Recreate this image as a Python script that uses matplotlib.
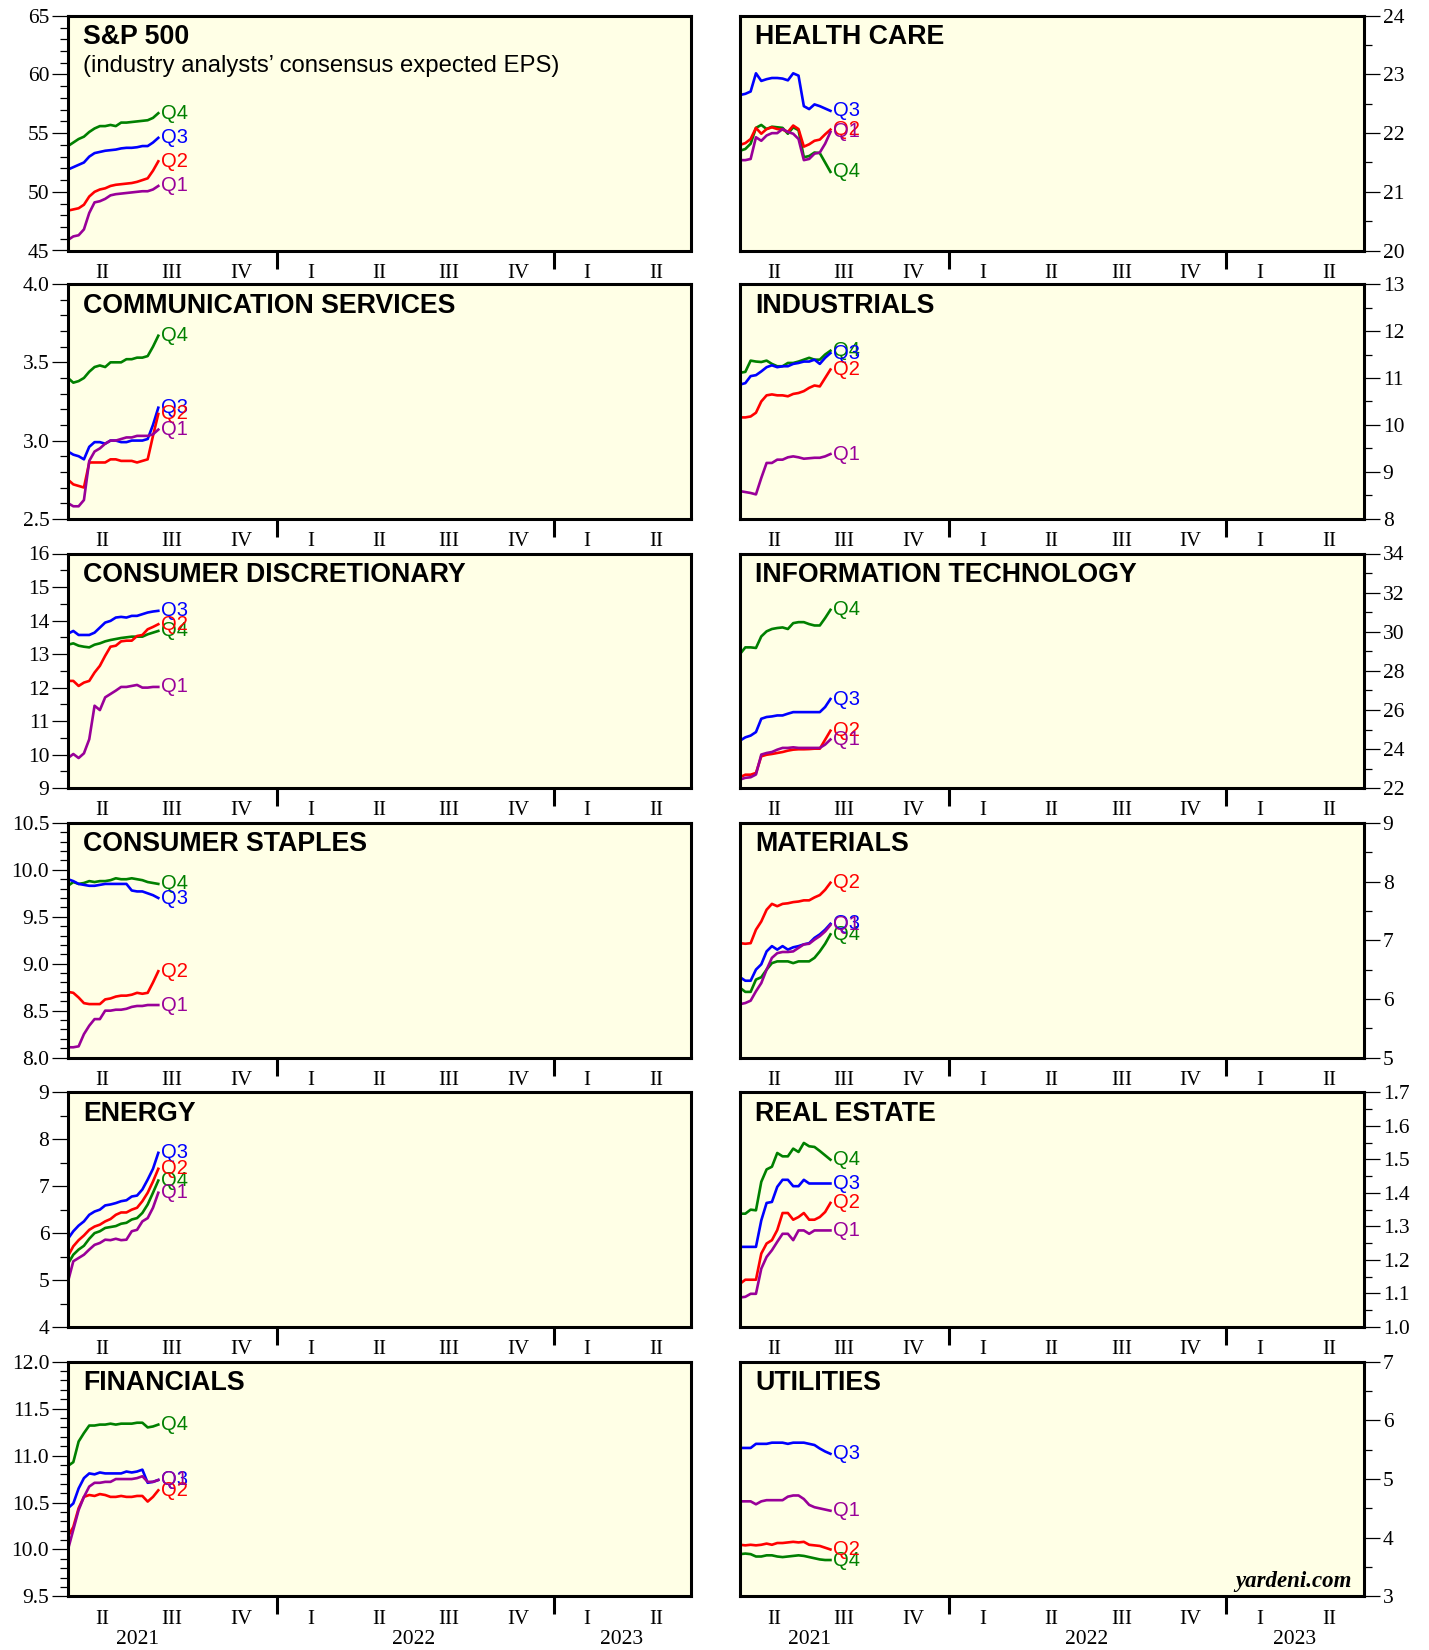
import matplotlib
matplotlib.use("Agg")
import matplotlib.pyplot as plt
import matplotlib.transforms as mtransforms
from matplotlib.ticker import MultipleLocator
import pandas as pd

# ---------------- data ----------------
weeks = pd.date_range("2021-04-01", periods=18, freq="7D")
quarter_labels = ["II", "III", "IV", "I", "II", "III", "IV", "I", "II"]
quarter_mids = ["2021-05-16", "2021-08-16", "2021-11-15", "2022-02-15", "2022-05-16",
                "2022-08-16", "2022-11-15", "2023-02-14", "2023-05-16"]
year_labels = ["2021", "2022", "2023"]
year_pos = ["2021-07-01", "2022-07-01", "2023-04-01"]
year_breaks = ["2022-01-01", "2023-01-01"]
series_names = ["Q4", "Q3", "Q2", "Q1"]

sp_q4 = [53.9, 54.2, 54.5, 54.7, 55.1, 55.4, 55.6, 55.6, 55.7, 55.6, 55.9, 55.9, 55.95, 56.0, 56.05, 56.1, 56.3, 56.7]
sp_q3 = [51.9, 52.1, 52.3, 52.5, 53.0, 53.3, 53.4, 53.5, 53.55, 53.6, 53.7, 53.75, 53.75, 53.8, 53.9, 53.9, 54.2, 54.6]
sp_q2 = [48.4, 48.5, 48.6, 48.9, 49.6, 50.0, 50.2, 50.3, 50.5, 50.6, 50.65, 50.7, 50.75, 50.85, 51.0, 51.15, 51.8, 52.6]
sp_q1 = [45.9, 46.2, 46.3, 46.8, 48.2, 49.1, 49.2, 49.4, 49.7, 49.8, 49.85, 49.9, 49.95, 50.0, 50.05, 50.05, 50.2, 50.5]

hc_q4 = [21.70, 21.73, 21.82, 22.09, 22.14, 22.07, 22.11, 22.10, 22.09, 21.99, 22.10, 22.05, 21.59, 21.61, 21.67, 21.66, 21.50, 21.34]
hc_q3 = [22.65, 22.67, 22.71, 23.02, 22.89, 22.92, 22.94, 22.94, 22.93, 22.90, 23.02, 22.98, 22.46, 22.41, 22.49, 22.46, 22.42, 22.38]
hc_q2 = [21.80, 21.83, 21.90, 22.09, 21.99, 22.07, 22.10, 22.07, 22.06, 22.02, 22.13, 22.07, 21.77, 21.81, 21.87, 21.89, 21.98, 22.06]
hc_q1 = [21.54, 21.54, 21.56, 21.93, 21.87, 21.96, 22.00, 22.00, 22.07, 22.02, 21.99, 21.90, 21.54, 21.56, 21.65, 21.67, 21.82, 22.02]

cs_q4 = [3.40, 3.37, 3.38, 3.40, 3.44, 3.47, 3.48, 3.47, 3.50, 3.50, 3.50, 3.52, 3.52, 3.53, 3.53, 3.54, 3.60, 3.67]
cs_q3 = [2.93, 2.91, 2.90, 2.88, 2.96, 2.99, 2.99, 2.98, 3.00, 3.00, 2.99, 2.99, 3.00, 3.00, 3.00, 3.01, 3.10, 3.21]
cs_q2 = [2.75, 2.72, 2.71, 2.70, 2.86, 2.86, 2.86, 2.86, 2.88, 2.88, 2.87, 2.87, 2.87, 2.86, 2.87, 2.88, 3.03, 3.17]
cs_q1 = [2.60, 2.58, 2.58, 2.62, 2.87, 2.93, 2.95, 2.98, 3.00, 3.00, 3.01, 3.02, 3.02, 3.03, 3.03, 3.03, 3.04, 3.07]

ind_q4 = [11.11, 11.13, 11.37, 11.35, 11.34, 11.37, 11.30, 11.25, 11.25, 11.32, 11.32, 11.35, 11.39, 11.43, 11.39, 11.39, 11.50, 11.58]
ind_q3 = [10.86, 10.89, 11.04, 11.06, 11.14, 11.23, 11.27, 11.23, 11.25, 11.25, 11.30, 11.32, 11.35, 11.35, 11.39, 11.30, 11.43, 11.53]
ind_q2 = [10.16, 10.16, 10.18, 10.26, 10.50, 10.63, 10.65, 10.63, 10.63, 10.61, 10.66, 10.68, 10.72, 10.79, 10.84, 10.82, 11.00, 11.18]
ind_q1 = [8.59, 8.57, 8.55, 8.52, 8.87, 9.19, 9.19, 9.26, 9.26, 9.31, 9.33, 9.31, 9.28, 9.29, 9.30, 9.30, 9.33, 9.38]

cd_q4 = [13.28, 13.32, 13.25, 13.22, 13.20, 13.28, 13.32, 13.38, 13.42, 13.45, 13.48, 13.50, 13.52, 13.52, 13.52, 13.59, 13.64, 13.69]
cd_q3 = [13.61, 13.69, 13.57, 13.57, 13.57, 13.64, 13.79, 13.94, 13.99, 14.09, 14.11, 14.09, 14.14, 14.14, 14.19, 14.24, 14.27, 14.29]
cd_q2 = [12.20, 12.20, 12.05, 12.15, 12.20, 12.45, 12.65, 12.95, 13.22, 13.25, 13.38, 13.40, 13.40, 13.54, 13.57, 13.74, 13.81, 13.89]
cd_q1 = [9.90, 10.02, 9.90, 10.04, 10.46, 11.46, 11.33, 11.71, 11.81, 11.91, 12.02, 12.02, 12.05, 12.08, 12.00, 12.00, 12.02, 12.02]

it_q4 = [28.86, 29.20, 29.20, 29.17, 29.76, 30.02, 30.14, 30.19, 30.22, 30.14, 30.44, 30.49, 30.49, 30.39, 30.32, 30.32, 30.70, 31.12]
it_q3 = [24.43, 24.60, 24.69, 24.87, 25.55, 25.64, 25.67, 25.72, 25.72, 25.81, 25.89, 25.89, 25.89, 25.89, 25.89, 25.89, 26.15, 26.56]
it_q2 = [22.56, 22.69, 22.69, 22.78, 23.63, 23.71, 23.75, 23.80, 23.85, 23.92, 23.97, 23.99, 23.99, 24.00, 24.02, 24.02, 24.48, 24.94]
it_q1 = [22.44, 22.53, 22.56, 22.70, 23.72, 23.80, 23.85, 23.97, 24.06, 24.06, 24.09, 24.06, 24.06, 24.06, 24.06, 24.06, 24.23, 24.49]

st_q4 = [9.83, 9.87, 9.85, 9.86, 9.88, 9.87, 9.88, 9.88, 9.89, 9.91, 9.90, 9.90, 9.91, 9.90, 9.89, 9.87, 9.86, 9.85]
st_q3 = [9.90, 9.88, 9.85, 9.84, 9.83, 9.83, 9.84, 9.85, 9.85, 9.85, 9.85, 9.85, 9.78, 9.77, 9.77, 9.75, 9.73, 9.70]
st_q2 = [8.70, 8.69, 8.64, 8.58, 8.57, 8.57, 8.57, 8.62, 8.63, 8.65, 8.66, 8.66, 8.67, 8.69, 8.68, 8.69, 8.80, 8.92]
st_q1 = [8.11, 8.11, 8.12, 8.25, 8.34, 8.41, 8.41, 8.50, 8.50, 8.51, 8.51, 8.52, 8.54, 8.55, 8.55, 8.56, 8.56, 8.56]

mat_q4 = [6.19, 6.12, 6.12, 6.33, 6.37, 6.50, 6.61, 6.64, 6.64, 6.64, 6.61, 6.64, 6.64, 6.64, 6.70, 6.81, 6.94, 7.10]
mat_q3 = [6.37, 6.31, 6.31, 6.50, 6.59, 6.81, 6.90, 6.84, 6.90, 6.84, 6.88, 6.90, 6.93, 6.95, 7.04, 7.10, 7.18, 7.28]
mat_q2 = [6.95, 6.94, 6.95, 7.18, 7.32, 7.52, 7.62, 7.58, 7.62, 7.63, 7.65, 7.66, 7.68, 7.68, 7.73, 7.77, 7.86, 7.98]
mat_q1 = [5.91, 5.93, 5.97, 6.13, 6.27, 6.50, 6.70, 6.78, 6.80, 6.80, 6.81, 6.87, 6.93, 6.94, 7.01, 7.07, 7.15, 7.26]

en_q4 = [5.35, 5.54, 5.65, 5.73, 5.88, 6.00, 6.04, 6.11, 6.13, 6.15, 6.20, 6.22, 6.29, 6.32, 6.43, 6.61, 6.86, 7.12]
en_q3 = [5.88, 6.04, 6.16, 6.25, 6.39, 6.46, 6.50, 6.59, 6.61, 6.64, 6.68, 6.70, 6.78, 6.80, 6.93, 7.14, 7.37, 7.71]
en_q2 = [5.51, 5.72, 5.85, 5.95, 6.07, 6.14, 6.18, 6.25, 6.30, 6.39, 6.44, 6.44, 6.50, 6.54, 6.68, 6.86, 7.10, 7.37]
en_q1 = [4.97, 5.40, 5.47, 5.54, 5.65, 5.75, 5.79, 5.86, 5.85, 5.88, 5.85, 5.86, 6.04, 6.07, 6.25, 6.32, 6.54, 6.86]

re_q4 = [1.338, 1.338, 1.350, 1.348, 1.433, 1.470, 1.478, 1.519, 1.509, 1.509, 1.532, 1.522, 1.549, 1.539, 1.537, 1.525, 1.512, 1.499]
re_q3 = [1.239, 1.239, 1.239, 1.239, 1.318, 1.370, 1.373, 1.418, 1.439, 1.439, 1.420, 1.420, 1.439, 1.428, 1.428, 1.428, 1.428, 1.428]
re_q2 = [1.129, 1.141, 1.141, 1.141, 1.219, 1.249, 1.259, 1.289, 1.340, 1.340, 1.320, 1.328, 1.340, 1.320, 1.320, 1.328, 1.343, 1.370]
re_q1 = [1.088, 1.090, 1.099, 1.099, 1.174, 1.209, 1.229, 1.254, 1.278, 1.278, 1.259, 1.288, 1.288, 1.278, 1.288, 1.288, 1.288, 1.288]

fin_q4 = [10.89, 10.93, 11.15, 11.24, 11.32, 11.32, 11.33, 11.33, 11.34, 11.33, 11.34, 11.34, 11.34, 11.35, 11.35, 11.30, 11.31, 11.33]
fin_q3 = [10.44, 10.49, 10.65, 10.76, 10.81, 10.80, 10.82, 10.81, 10.81, 10.81, 10.81, 10.83, 10.82, 10.83, 10.85, 10.71, 10.72, 10.74]
fin_q2 = [10.14, 10.24, 10.44, 10.56, 10.58, 10.57, 10.59, 10.58, 10.56, 10.56, 10.57, 10.56, 10.56, 10.57, 10.57, 10.51, 10.56, 10.63]
fin_q1 = [10.00, 10.21, 10.42, 10.56, 10.67, 10.71, 10.71, 10.72, 10.72, 10.75, 10.75, 10.75, 10.75, 10.76, 10.78, 10.72, 10.72, 10.74]

ut_q4 = [3.72, 3.73, 3.72, 3.68, 3.68, 3.70, 3.70, 3.68, 3.67, 3.68, 3.69, 3.70, 3.69, 3.67, 3.65, 3.63, 3.62, 3.62]
ut_q3 = [5.53, 5.53, 5.53, 5.60, 5.60, 5.60, 5.62, 5.62, 5.62, 5.60, 5.62, 5.62, 5.62, 5.60, 5.58, 5.52, 5.47, 5.43]
ut_q2 = [3.88, 3.87, 3.88, 3.87, 3.88, 3.90, 3.88, 3.91, 3.91, 3.92, 3.93, 3.92, 3.93, 3.88, 3.87, 3.86, 3.83, 3.80]
ut_q1 = [4.62, 4.62, 4.62, 4.57, 4.62, 4.64, 4.64, 4.64, 4.64, 4.70, 4.72, 4.72, 4.66, 4.56, 4.52, 4.50, 4.48, 4.46]

# panel: (title, subtitle, series [Q4,Q3,Q2,Q1], ylim, major, minor, column, row, fmt)
panels = [
    ("S&P 500", "(industry analysts\u2019 consensus expected EPS)", [sp_q4, sp_q3, sp_q2, sp_q1], (45, 65), 5, 1, 0, 0, "%d"),
    ("HEALTH CARE", None, [hc_q4, hc_q3, hc_q2, hc_q1], (20, 24), 1, 0.5, 1, 0, "%d"),
    ("COMMUNICATION SERVICES", None, [cs_q4, cs_q3, cs_q2, cs_q1], (2.5, 4.0), 0.5, 0.1, 0, 1, "%.1f"),
    ("INDUSTRIALS", None, [ind_q4, ind_q3, ind_q2, ind_q1], (8, 13), 1, 0.5, 1, 1, "%d"),
    ("CONSUMER DISCRETIONARY", None, [cd_q4, cd_q3, cd_q2, cd_q1], (9, 16), 1, 0.5, 0, 2, "%d"),
    ("INFORMATION TECHNOLOGY", None, [it_q4, it_q3, it_q2, it_q1], (22, 34), 2, 1, 1, 2, "%d"),
    ("CONSUMER STAPLES", None, [st_q4, st_q3, st_q2, st_q1], (8.0, 10.5), 0.5, 0.1, 0, 3, "%.1f"),
    ("MATERIALS", None, [mat_q4, mat_q3, mat_q2, mat_q1], (5, 9), 1, 0.5, 1, 3, "%d"),
    ("ENERGY", None, [en_q4, en_q3, en_q2, en_q1], (4, 9), 1, 0.5, 0, 4, "%d"),
    ("REAL ESTATE", None, [re_q4, re_q3, re_q2, re_q1], (1.0, 1.7), 0.1, 0.05, 1, 4, "%.1f"),
    ("FINANCIALS", None, [fin_q4, fin_q3, fin_q2, fin_q1], (9.5, 12.0), 0.5, 0.1, 0, 5, "%.1f"),
    ("UTILITIES", None, [ut_q4, ut_q3, ut_q2, ut_q1], (3, 7), 1, 0.5, 1, 5, "%d"),
]

colors = {"Q4": "#008000", "Q3": "#0000FF", "Q2": "#FF0000", "Q1": "#990099"}
bg = "#FFFFE6"

# ---------------- layout ----------------
W, H = 1429, 1650
fig = plt.figure(figsize=(W / 100, H / 100), dpi=100)
fig.patch.set_facecolor("white")

col_x = [(68, 691), (740, 1364)]
row_top = [15.8, 284.1, 553.5, 822.9, 1092.3, 1361.7]
row_h = 234.7

SERIF = ["Liberation Serif", "DejaVu Serif"]
SANS = ["Liberation Sans", "DejaVu Sans"]

xmin = pd.Timestamp("2021-04-01")
xmax = pd.Timestamp("2023-07-01")

for title, sub, series, ylim, major, minor, col, row, fmt in panels:
    x0, x1 = col_x[col]
    top = row_top[row]
    ax = fig.add_axes([x0 / W, 1 - (top + row_h) / H, (x1 - x0) / W, row_h / H])
    ax.set_facecolor(bg)
    for sp in ax.spines.values():
        sp.set_linewidth(2.2)
        sp.set_color("black")
    ax.set_xlim(xmin, xmax)
    ax.set_ylim(*ylim)

    for name, vals in zip(series_names, series):
        ax.plot(weeks, vals, color=colors[name], lw=1.9, solid_joinstyle="round")
        ax.annotate(name, xy=(weeks[-1], vals[-1]), xytext=(2, 0),
                    textcoords="offset points", ha="left", va="center",
                    color=colors[name], fontsize=14.5, family=SANS)

    ax.text(15 / (x1 - x0), 1 - 8.5 / row_h, title, transform=ax.transAxes,
            ha="left", va="top", fontsize=19.3, fontweight="bold", family=SANS)
    if sub:
        ax.text(15 / (x1 - x0), 1 - 39 / row_h, sub, transform=ax.transAxes,
                ha="left", va="top", fontsize=17.2, family=SANS)

    # y axis
    ax.yaxis.set_major_locator(MultipleLocator(major))
    ax.yaxis.set_minor_locator(MultipleLocator(minor))
    ax.yaxis.set_major_formatter(matplotlib.ticker.FormatStrFormatter(fmt))
    if col == 1:
        ax.yaxis.tick_right()
    ax.tick_params(axis="y", which="major", direction="out", length=11.5, width=0.9,
                   labelsize=15.5, pad=2)
    ax.tick_params(axis="y", which="minor", direction="out", length=5.5, width=0.9)
    for lab in ax.get_yticklabels():
        lab.set_family(SERIF)

    # x axis: year break ticks (major) and quarter labels (minor)
    ax.set_xticks([pd.Timestamp(d) for d in year_breaks])
    ax.set_xticklabels([])
    ax.set_xticks([pd.Timestamp(d) for d in quarter_mids], minor=True)
    ax.set_xticklabels(quarter_labels, minor=True, family=SERIF, fontsize=15)
    ax.tick_params(axis="x", which="major", direction="out", length=13, width=2.2)
    ax.tick_params(axis="x", which="minor", length=0, pad=9.5)

    if row == 5:
        trans = mtransforms.blended_transform_factory(ax.transData, ax.transAxes)
        for lab, pos in zip(year_labels, year_pos):
            ax.text(pd.Timestamp(pos), -(1644 - 1596.4) / row_h, lab, transform=trans,
                    ha="center", va="baseline", fontsize=15.5, family=SERIF)
        if col == 1:
            ax.text(1 - 12 / (x1 - x0), 9 / row_h, "yardeni.com", transform=ax.transAxes,
                    ha="right", va="baseline", fontsize=16.5, fontweight="bold",
                    fontstyle="italic", family=SERIF)

fig.savefig("out.png", dpi=100, facecolor="white")
